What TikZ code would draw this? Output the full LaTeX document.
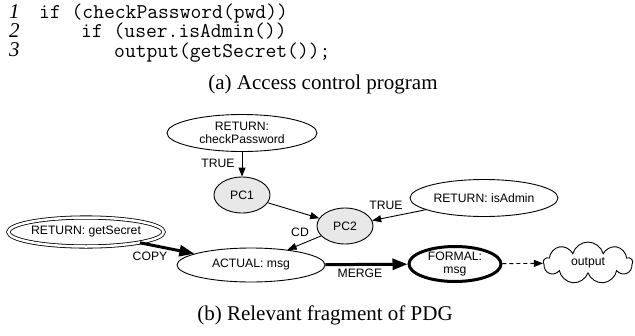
\documentclass[tikz,border=0pt]{standalone}
\usepackage{fontspec}
\setmainfont{Liberation Serif}
\setsansfont{Liberation Sans}
\usepackage{tikz}
\usetikzlibrary{shapes.geometric,shapes.symbols,arrows.meta,positioning}

\tikzset{
  pdg/.style={ellipse, draw, line width=0.9pt, inner sep=0pt, align=center,
    font=\sffamily\fontsize{12.2}{13}\selectfont},
  pcnode/.style={pdg, fill=gray!18, minimum width=56pt, minimum height=36pt},
  lbl/.style={inner sep=0pt, font=\sffamily\fontsize{12.2}{13}\selectfont},
  code/.style={inner sep=0pt, anchor=base west, font=\ttfamily\fontsize{21}{17}\selectfont},
  lineno/.style={inner sep=0pt, anchor=base west, font=\itshape\fontsize{21}{17}\selectfont},
  capt/.style={inner sep=0pt, font=\fontsize{21}{21}\selectfont},
  dep/.style={-{Triangle[length=9pt,width=7pt]}, line width=0.9pt},
  flow/.style={-{Triangle[length=15pt,width=11pt]}, line width=3pt}
}

\begin{document}
\begin{tikzpicture}[x=1pt,y=-1pt]
\useasboundingbox (0,0) rectangle (635,335);
% program
\node[lineno] (nums) at (9,18) {\begin{tabular}[t]{@{}l@{}}1\\2\\3\end{tabular}};
\node[code] (prog) at (39,18) {\begin{tabular}[t]{@{}l@{}}
  if (checkPassword(pwd))\\
  \hspace*{42pt}if (user.isAdmin())\\
  \hspace*{75pt}output(getSecret());
\end{tabular}};
\node[capt] (capa) at (323,84) {(a) Access control program};

% PDG fragment
\node[pdg, minimum width=150pt, minimum height=37pt] (chk) at (242,133) {RETURN:\\checkPassword};
\node[pcnode] (pc1) at (242,195) {PC1};
\node[pcnode] (pc2) at (345,226) {PC2};
\node[pdg, minimum width=148pt, minimum height=37pt] (adm) at (484,198) {RETURN: isAdmin};
\node[pdg, double, double distance=2.5pt, line width=0.8pt, minimum width=154pt, minimum height=29pt] (sec) at (86,232) {RETURN: getSecret};
\node[pdg, minimum width=148pt, minimum height=34pt] (act) at (251,265) {ACTUAL: msg};
\node[pdg, line width=3pt, minimum width=92pt, minimum height=35pt] (frm) at (455,264) {FORMAL:\\msg};
\node[cloud, draw, line width=0.9pt, cloud puffs=9, aspect=2.2, inner sep=0pt,
  minimum width=89pt, minimum height=42pt, font=\sffamily\fontsize{12.2}{13}\selectfont] (out) at (588,263) {output};

\draw[dep] (chk) -- (pc1);
\draw[dep] (pc1) -- (pc2);
\draw[dep] (adm) -- (pc2);
\draw[dep] (pc2) -- (act);
\draw[flow] (sec) -- (act);
\draw[flow] (act) -- (frm);
\draw[dep, dashed, dash pattern=on 4pt off 3pt] (frm) -- (out);

\node[lbl] (t1) at (218,163) {TRUE};
\node[lbl] (t2) at (386,205) {TRUE};
\node[lbl] (cd) at (300,232) {CD};
\node[lbl] (cp) at (150,256) {COPY};
\node[lbl] (mg) at (360,273) {MERGE};

\node[capt] (capb) at (325,315) {(b) Relevant fragment of PDG};
\end{tikzpicture}
\end{document}
